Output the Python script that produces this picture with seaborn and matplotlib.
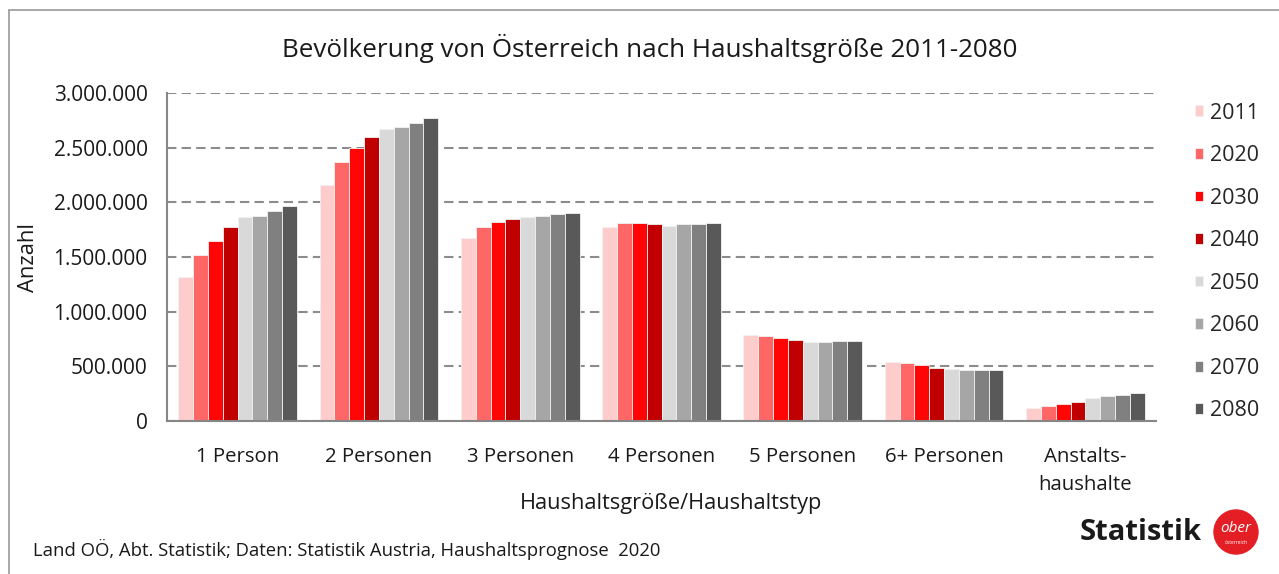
import pandas as pd
import matplotlib.pyplot as plt
import seaborn as sns
from matplotlib.patches import Ellipse
from matplotlib.lines import Line2D

categories = ["1 Person", "2 Personen", "3 Personen", "4 Personen",
              "5 Personen", "6+ Personen", "Anstalts-\nhaushalte"]
years = ["2011", "2020", "2030", "2040", "2050", "2060", "2070", "2080"]

v_2011 = [1320000, 2158000, 1674000, 1774000, 784000, 543000, 119000]
v_2020 = [1515000, 2366000, 1774000, 1808000, 777000, 527000, 134000]
v_2030 = [1649000, 2500000, 1820000, 1814000, 759000, 509000, 155000]
v_2040 = [1774000, 2597000, 1850000, 1802000, 741000, 485000, 174000]
v_2050 = [1863000, 2668000, 1863000, 1786000, 725000, 473000, 207000]
v_2060 = [1878000, 2686000, 1875000, 1799000, 725000, 469000, 226000]
v_2070 = [1918000, 2728000, 1890000, 1802000, 729000, 469000, 238000]
v_2080 = [1966000, 2768000, 1902000, 1814000, 729000, 469000, 253000]

colors = ["#FFCCCC", "#FF6666", "#FF0505", "#C00000",
          "#D9D9D9", "#A6A6A6", "#808080", "#595959"]

series = [v_2011, v_2020, v_2030, v_2040, v_2050, v_2060, v_2070, v_2080]
rows = []
for year, vals in zip(years, series):
    for cat, v in zip(categories, vals):
        rows.append({"Kategorie": cat, "Jahr": year, "Anzahl": v})
df = pd.DataFrame(rows)

sns.set_style("white")
plt.rcParams['font.family'] = ['Open Sans', 'DejaVu Sans']

fig = plt.figure(figsize=(12.79, 5.74), dpi=100)
ax = fig.add_axes([167/1279, 1-421/574, (1156-167)/1279, (421-93)/574])

sns.barplot(data=df, x="Kategorie", y="Anzahl", hue="Jahr", order=categories,
            hue_order=years, palette=colors, saturation=1, width=0.84, gap=0,
            edgecolor="#f2f2f2", linewidth=0.6, ax=ax)

ax.set_xlim(-0.5, 6.5)
ax.set_ylim(0, 3000000)
yt = [0, 500000, 1000000, 1500000, 2000000, 2500000, 3000000]
ax.set_yticks(yt)
ax.set_yticklabels([f"{v:,}".replace(",", ".") for v in yt], fontsize=15, color="#1a1a1a")
ax.set_xticks(range(len(categories)))
ax.set_xticklabels(categories, fontsize=14.7, color="#1a1a1a")
for lab in ax.get_xticklabels():
    lab.set_linespacing(1.5)
ax.set_xticks([i - 0.5 for i in range(len(categories) + 1)], minor=True)
ax.tick_params(axis="x", which="major", length=0, pad=19)
ax.tick_params(axis="x", which="minor", length=6, width=1.5, color="#868686", direction="out")
ax.tick_params(axis="y", length=6, width=1.5, color="#868686", direction="out", pad=8)

ax.yaxis.grid(True, color="#8c8c8c", linewidth=1.5, linestyle=(0, (4.5, 2.5)))
ax.set_axisbelow(True)
for s in ["top", "right"]:
    ax.spines[s].set_visible(False)
for s in ["left", "bottom"]:
    ax.spines[s].set_color("#868686")
    ax.spines[s].set_linewidth(1.5)

ax.set_ylabel("")
ax.set_xlabel("")
fig.text(28/1279, 1-257/574, "Anzahl", fontsize=15.8, rotation=90,
         ha="center", va="center", color="#1a1a1a")
fig.text(671/1279, 1-503/574, "Haushaltsgröße/Haushaltstyp", fontsize=15.7,
         ha="center", va="center", color="#1a1a1a")

fig.text(650/1279, 1-48/574, "Bevölkerung von Österreich nach Haushaltsgröße 2011-2080",
         fontsize=18.7, ha="center", va="center", color="#1a1a1a")

handles, labels = ax.get_legend_handles_labels()
ax.legend(handles, labels, loc="upper left", bbox_to_anchor=(1186/1279, 1-94/574),
          bbox_transform=fig.transFigure, frameon=False, fontsize=15.5,
          handlelength=0.4, handleheight=0.4, handletextpad=0.3,
          labelspacing=1.0, borderaxespad=0)

fig.text(33/1279, 1-549/574,
         "Land OÖ, Abt. Statistik; Daten: Statistik Austria, Haushaltsprognose  2020",
         fontsize=13.3, ha="left", va="center", color="#1a1a1a")

# logo
fig.text(1080/1279, 1-533/574, "Statistik", fontsize=21, fontweight="bold",
         ha="left", va="center", color="#1a1a1a")
fig.add_artist(Ellipse((1236/1279, 1-532/574), 44/1279, 44/574,
                       transform=fig.transFigure, color="#E31E24"))
fig.text(1236/1279, 1-529/574, "ober", fontsize=11, style="italic",
         ha="center", va="center", color="white")
fig.text(1236/1279, 1-542/574, "österreich", fontsize=3.5,
         ha="center", va="center", color="white")

# outer frame
fig.add_artist(Line2D([9/1279, 9/1279], [0, 1-10/574], transform=fig.transFigure,
                      color="#9a9a9a", linewidth=1.2))
fig.add_artist(Line2D([9/1279, 1], [1-10/574, 1-10/574], transform=fig.transFigure,
                      color="#9a9a9a", linewidth=1.2))

fig.savefig("out.png", dpi=100)
